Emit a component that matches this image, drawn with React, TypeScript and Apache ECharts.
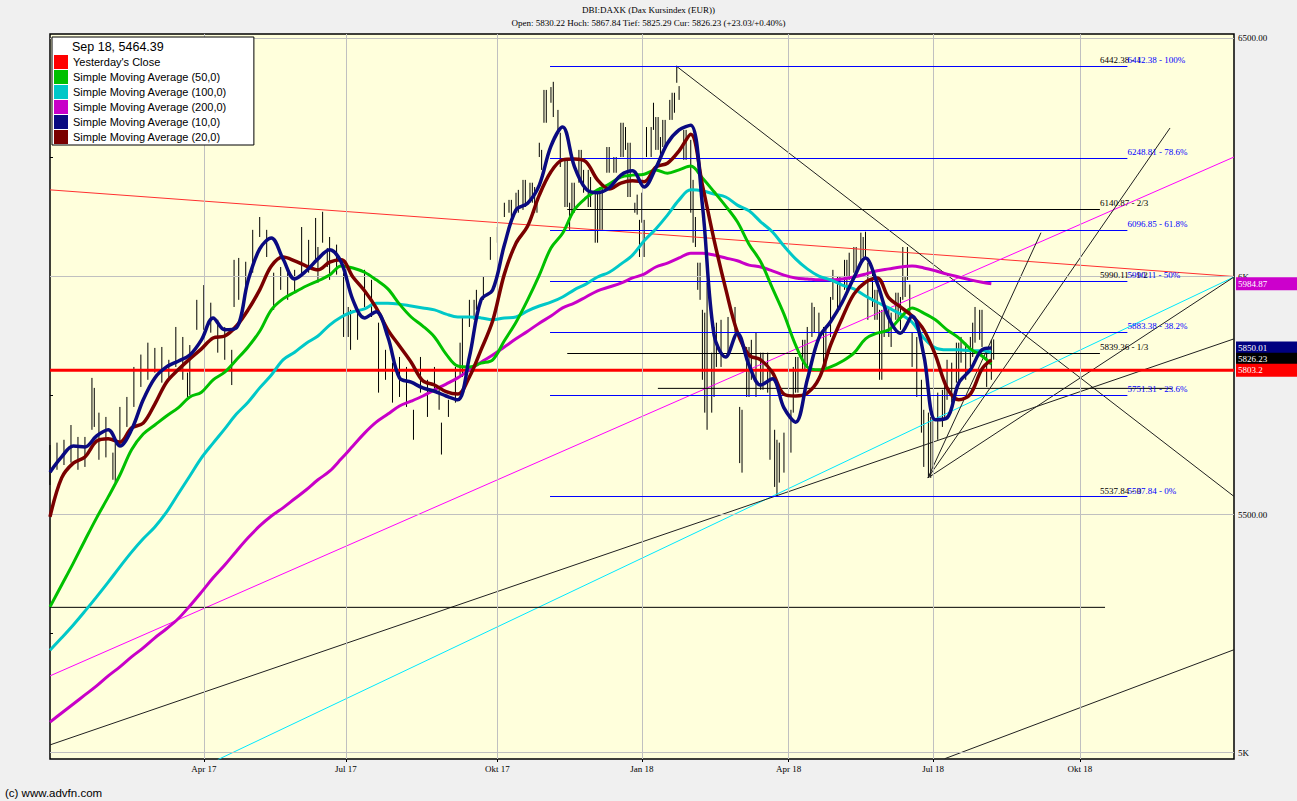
import { useEffect, useRef } from 'react';
import * as echarts from 'echarts';

// ---------- axis data ----------
const quarterDays = [66, 127, 192, 254, 317, 379, 442]; // trading-day index of quarter starts
const quarterLabels = ['Apr 17', 'Jul 17', 'Okt 17', 'Jan 18', 'Apr 18', 'Jul 18', 'Okt 18'];
const yTickValues = [5000, 5250, 5500, 5750, 6000, 6250, 6500];
const yLabelValues = [5000, 5500, 6000, 6500];
const yLabelTexts = ['5K', '5500.00', '6K', '6500.00'];
const gridLevels = [5000, 5500, 6000, 6500];
const DAY_MAX = 508.15;
const Y_MIN = 4986.4;
const Y_MAX = 6509.45;

// ---------- price bars (high / low) ----------
const barDays = [0,3,6,9,12,15,18,21,24,27,30,33,36,39,42,45,48,51,54,57,60,63,66,69,72,75,78,81,84,87,90,93,96,99,102,105,108,111,114,117,120,123,126,129,132,135,138,141,144,147,150,153,156,159,162,165,168,171,174,177,180,183,186,189,192,195,198,201,204,207,210,213,216,219,222,225,228,231,234,237,240,243,246,249,252,255,258,261,264,267,270,273,276,279,282,285,288,291,294,297,300,303,306,309,312,315,318,321,324,327,330,333,336,339,342,345,348,351,354,357,360,363,366,369,372,375,378,381,384,387,390,393,396,399,402,405];
const barHigh = [5646,5651,5657,5688,5663,5663,5787,5714,5705,5630,5726,5747,5810,5836,5861,5850,5852,5825,5894,5873,5856,5951,5982,5945,5909,5894,5846,6039,6031,6098,6125,6098,6008,6020,6008,6014,6104,6077,6123,6136,6083,6067,6008,5930,5930,6014,5993,5903,5846,5819,5831,5810,5720,5831,5783,5810,5693,5741,5810,5915,5951,5972,6000,6083,6104,6155,6161,6182,6203,6197,6281,6392,6409,6302,6245,6197,6266,6224,6176,6188,6272,6251,6323,6281,6172,6119,6314,6335,6329,6386,6400,6308,6203,6029,5987,5894,5909,5915,5936,5720,5852,5882,5840,5804,5657,5672,5720,5831,5867,5945,5924,5894,6014,6000,6035,6062,6092,6029,5972,5930,5936,5966,6062,5983,5873,5720,5705,5756,5783,5819,5861,5861,5903,5930,5852,5867.84];
const barLow = [5562,5594,5604,5609,5594,5600,5678,5615,5620,5573,5642,5684,5726,5768,5783,5798,5777,5783,5810,5783,5751,5888,5888,5882,5840,5825,5772,5951,5972,6008,6083,6041,5930,5972,5951,5966,5999,6008,6035,6071,5993,6004,5873,5846,5867,5936,5915,5756,5783,5735,5747,5726,5657,5756,5705,5762,5626,5705,5735,5789,5894,5930,5951,6035,6071,6125,6125,6134,6146,6155,6251,6323,6335,6230,6146,6134,6197,6146,6071,6098,6218,6218,6251,6167,6130,6041,6251,6266,6272,6329,6371,6245,6071,5951,5678,5747,5810,5840,5882,5588,5747,5747,5762,5615,5537.84,5588,5630,5756,5804,5873,5867,5810,5951,5930,5972,6008,6031,5909,5909,5783,5873,5909,5951,5919,5747,5600,5577,5657,5699,5735,5777,5783,5831,5867,5768,5825.29];
// further bars read between the ones above
const extraBarDays = [19,28,59,79,115,119,128,167,176,182,197,200,203,206,208,209,211,212,215,218,221,223,224,227,229,232,235,236,239,242,245,247,248,251,253,254,256,259,260,262,263,266,268,269,272,275,277,278,280,281,284,286,296,299,301,305,308,311,313,319,320,323,325,328,332,335,338,341,343,346,349,350,353,355,356,358,361,364,365,367,368,370,374,377,379,383,385,389,391,395,397,400,404];
const extraBarHigh = [5766,5651,5798,6035,6062,6060,5936,5762,5861,5951,6161,6176,6203,6197,6188,6161,6266,6392,6398,6350,6245,6155,6197,6266,6224,6209,6176,6188,6272,6251,6323,6314,6281,6155,6119,6176,6314,6365,6335,6293,6329,6371,6386,6442.38,6308,6287,6125,6029,5930,5924,5840,5903,5726,5852,5867,5840,5840,5678,5651,5810,5831,5867,5894,5936,5894,5957,6000,6035,6050,6062,6083,6094,6014,5972,5930,5936,5924,5966,5957,5999,6062,5882,5783,5714,5705,5762,5825,5861,5873,5873,5936,5930,5867];
const extraBarLow = [5684,5567,5747,5936,5987,6020,5873,5720,5789,5909,6134,6134,6140,6155,6134,6134,6224,6323,6365,6302,6146,6098,6134,6197,6176,6146,6071,6098,6218,6218,6251,6266,6167,6134,6041,6113,6251,6308,6266,6245,6272,6329,6344,6407,6245,6134,6062,5972,5783,5714,5714,5810,5608,5747,5783,5762,5756,5558,5567,5714,5756,5804,5810,5882,5810,5873,5930,5972,5993,6008,6041,6041,5936,5909,5783,5873,5852,5909,5888,5957,5993,5810,5672,5577,5600,5684,5741,5777,5819,5810,5861,5852,5783];

// ---------- moving averages ----------
const maDays = [0,5,10,15,20,25,30,35,40,45,50,55,60,65,70,75,80,85,90,95,100,105,110,115,120,125,130,135,140,145,150,155,160,165,170,175,180,185,190,195,200,205,210,215,220,225,230,235,240,245,250,255,260,265,270,275,280,285,290,295,300,305,310,315,320,325,330,335,340,345,350,355,360,365,370,375,380,385,390,395,400,404];
const sma10 = [5589,5621,5644,5642,5665,5678,5644,5678,5741,5787,5810,5822,5835,5867,5913,5888,5892,5991,6058,6081,6037,5995,6012,6037,6056,6030,5951,5913,5926,5873,5787,5778,5766,5759,5749,5741,5831,5951,5972,6066,6140,6154,6192,6274,6314,6232,6184,6176,6186,6213,6222,6188,6228,6280,6308,6318,6150,5877,5831,5881,5814,5772,5785,5724,5694,5783,5871,5905,5946,5997,6039,5986,5913,5881,5917,5835,5699,5703,5776,5804,5846,5850.01];
const sma20 = [5495,5577,5608,5621,5654,5659,5652,5682,5692,5732,5778,5804,5827,5848,5871,5875,5896,5930,5972,6022,6041,6033,6022,6014,6030,6035,5999,5970,5934,5888,5854,5820,5781,5772,5758,5753,5789,5846,5907,6005,6070,6106,6171,6220,6245,6247,6241,6203,6184,6196,6201,6199,6230,6238,6264,6299,6192,6077,5974,5883,5835,5825,5799,5753,5749,5755,5785,5856,5913,5963,5988,5997,5955,5936,5917,5888,5835,5766,5741,5753,5806,5825];
const sma50 = [5306,5352,5398,5446,5493,5537,5583,5636,5669,5688,5707,5724,5747,5757,5783,5799,5825,5852,5885,5930,5953,5967,5980,5991,6003,6022,6018,6009,5993,5974,5942,5915,5896,5873,5837,5812,5810,5818,5825,5865,5904,5951,6003,6060,6091,6140,6165,6182,6194,6209,6213,6215,6224,6217,6224,6232,6207,6178,6148,6115,6068,6031,5976,5921,5856,5810,5804,5810,5822,5839,5869,5881,5888,5913,5934,5923,5909,5888,5871,5848,5833,5816];
const sma100 = [5215,5241,5268,5297,5327,5358,5390,5421,5449,5474,5505,5543,5581,5619,5650,5680,5711,5736,5766,5793,5825,5841,5860,5875,5898,5915,5926,5932,5944,5944,5942,5938,5934,5930,5921,5915,5915,5913,5909,5913,5915,5928,5938,5946,5957,5972,5984,5999,6009,6026,6045,6075,6100,6129,6161,6182,6180,6173,6167,6150,6138,6115,6094,6064,6037,6016,6001,5993,5982,5974,5959,5946,5934,5921,5904,5871,5850,5846,5846,5844,5844,5841];
const sma200 = [5064,5083,5102,5121,5140,5161,5180,5201,5220,5241,5260,5281,5308,5337,5367,5394,5423,5451,5476,5497,5514,5533,5552,5573,5591,5617,5644,5671,5694,5711,5728,5738,5749,5762,5774,5787,5804,5820,5835,5852,5869,5885,5902,5917,5934,5944,5957,5970,5978,5986,5997,6005,6020,6028,6039,6049,6049,6045,6039,6033,6024,6020,6012,6003,5997,5995,5993,5993,5995,5999,6005,6012,6016,6020,6022,6018,6012,6005,5999,5993,5988,5984.87];
const yesterdayClose = 5803.2;

// ---------- drawn trend lines (day index, value) ----------
const redTrend = [[0, 6182], [508.15, 6000]];
const peakTrend = [[268.7, 6442.38], [508.15, 5538]];
const magentaTrend = [[0, 5161], [508.15, 6251]];
const cyanTrend = [[72, 4985], [508.15, 5999]];
const longBlackTrend = [[0, 5016], [508.15, 5869]];
const lowBlackTrend = [[384, 4987], [508.15, 5216]];
const supportLine = [[0, 5305], [452.8, 5305]];
const midLine = [[260.9, 5765], [481.5, 5765]];
const fanOrigin = [376.8, 5577];
const fanEnds = [[425.3, 6092], [480.7, 6312], [508.15, 5999]];

// ---------- Fibonacci retracements ----------
const fibBlueLevels = [5537.84, 5751.31, 5883.38, 5990.11, 6096.85, 6248.81, 6442.38];
const fibBlueTexts = ['5537.84 - 0%', '5751.31 - 23.6%', '5883.38 - 38.2%', '5990.11 - 50%', '6096.85 - 61.8%', '6248.81 - 78.6%', '6442.38 - 100%'];
const fibBlueRange = [214.6, 462.4];
const fibBlackLevels = [5537.84, 5839.36, 5990.11, 6140.87, 6442.38];
const fibBlackTexts = ['5537.84 - 0', '5839.36 - 1/3', '5990.11 - 1/2', '6140.87 - 2/3', '6442.38 - 1'];
const fibBlackRange = [222, 450.6];

// ---------- right-hand value tags ----------
const tagValues = [5984.87, 5850.01, 5826.23, 5803.2];
const tagTexts = ['5984.87', '5850.01', '5826.23', '5803.2'];
const tagColors = ['#cc00cc', '#000080', '#000000', '#ff0000'];

// ---------- texts ----------
const titleText = 'DBI:DAXK (Dax Kursindex (EUR))';
const subText = 'Open: 5830.22 Hoch: 5867.84 Tief: 5825.29 Cur: 5826.23 (+23.03/+0.40%)';
const legendTitle = 'Sep 18, 5464.39';
const footerText = '(c) www.advfn.com';
const legendNames = [
  "Yesterday's Close",
  'Simple Moving Average (50,0)',
  'Simple Moving Average (100,0)',
  'Simple Moving Average (200,0)',
  'Simple Moving Average (10,0)',
  'Simple Moving Average (20,0)',
];

const SERIF = "'Liberation Serif', 'Times New Roman', serif";
const SANS = "'Liberation Sans', Arial, sans-serif";

function segment(points: number[][], color: string, z = 3, width = 1): any {
  return {
    type: 'line',
    data: points,
    showSymbol: false,
    symbol: 'none',
    silent: true,
    z,
    lineStyle: { color, width },
    itemStyle: { color },
  };
}

function maSeries(name: string, values: number[], color: string, width: number, z: number): any {
  return {
    type: 'line',
    name,
    data: maDays.map((d, i) => [d, values[i]]),
    showSymbol: false,
    symbol: 'none',
    smooth: 0.35,
    silent: true,
    z,
    lineStyle: { color, width },
    itemStyle: { color },
  };
}

function fibLines(levels: number[], range: number[], color: string, z: number): any {
  return {
    type: 'line',
    data: [],
    silent: true,
    z,
    markLine: {
      silent: true,
      symbol: ['none', 'none'],
      animation: false,
      label: { show: false },
      lineStyle: { color, width: 1, type: 'solid' },
      emphasis: { disabled: true },
      data: levels.map((v) => [{ coord: [range[0], v] }, { coord: [range[1], v] }]),
    },
  };
}

function fibLabels(levels: number[], texts: string[], x: number, color: string, z: number): any {
  return {
    type: 'scatter',
    data: levels.map((v) => [x, v]),
    symbolSize: 0,
    silent: true,
    clip: false,
    z,
    itemStyle: { opacity: 1 },
    label: {
      show: true,
      position: 'right',
      distance: 0,
      offset: [0, -6],
      formatter: (p: any) => texts[p.dataIndex],
      color,
      opacity: 1,
      fontFamily: SERIF,
      fontSize: 9,
    },
  };
}

function buildOption(): any {
  const series: any[] = [];

  // grid lines
  series.push({
    type: 'line',
    data: [],
    silent: true,
    z: 1,
    markLine: {
      silent: true,
      symbol: ['none', 'none'],
      animation: false,
      label: { show: false },
      lineStyle: { color: '#c0c0c0', width: 1, type: 'solid' },
      emphasis: { disabled: true },
      data: [
        ...quarterDays.map((d) => ({ xAxis: d })),
        ...gridLevels.map((v) => ({ yAxis: v })),
      ],
    },
  });

  // price bars
  const barData = barDays
    .map((d, i) => [d, barHigh[i], barLow[i]])
    .concat(extraBarDays.map((d, i) => [d, extraBarHigh[i], extraBarLow[i]]));
  series.push({
    type: 'custom',
    name: 'DAXK',
    silent: true,
    z: 2,
    data: barData,
    encode: { x: 0, y: [1, 2] },
    renderItem: (params: any, api: any) => {
      const x = api.value(0);
      const p1 = api.coord([x, api.value(1)]);
      const p2 = api.coord([x, api.value(2)]);
      return {
        type: 'line',
        shape: { x1: p1[0], y1: p1[1], x2: p2[0], y2: p2[1] },
        style: { stroke: '#000', lineWidth: 1 },
      };
    },
  });

  // trend lines
  series.push(segment(redTrend, '#ff3030', 3));
  series.push(segment(peakTrend, '#202020', 3));
  series.push(segment(magentaTrend, '#ff00ff', 3));
  series.push(segment(cyanTrend, '#00e8ff', 3));
  series.push(segment(longBlackTrend, '#202020', 3));
  series.push(segment(lowBlackTrend, '#202020', 3));
  series.push(segment(supportLine, '#000000', 3));
  series.push(segment(midLine, '#000000', 3));
  fanEnds.forEach((e) => series.push(segment([fanOrigin, e], '#202020', 3)));

  // fibonacci
  series.push(fibLines(fibBlackLevels, fibBlackRange, '#000000', 3));
  series.push(fibLines(fibBlueLevels, fibBlueRange, '#0000ff', 3));
  series.push(fibLabels(fibBlackLevels, fibBlackTexts, fibBlackRange[1], '#000000', 8));
  series.push(fibLabels(fibBlueLevels, fibBlueTexts, fibBlueRange[1], '#0000ff', 9));

  // yesterday's close
  series.push({
    type: 'line',
    name: legendNames[0],
    data: [[0, yesterdayClose], [DAY_MAX, yesterdayClose]],
    showSymbol: false,
    symbol: 'none',
    silent: true,
    z: 4,
    lineStyle: { color: '#ff0000', width: 3 },
    itemStyle: { color: '#ff0000' },
  });

  // moving averages
  series.push(maSeries(legendNames[3], sma200, '#c800c8', 3, 5));
  series.push(maSeries(legendNames[2], sma100, '#00c8c8', 3, 5));
  series.push(maSeries(legendNames[1], sma50, '#00c000', 3, 5));
  series.push(maSeries(legendNames[5], sma20, '#7a0000', 3.5, 6));
  series.push(maSeries(legendNames[4], sma10, '#0a0a80', 3.5, 7));

  // value tags
  series.push({
    type: 'scatter',
    data: tagValues.map((v, i) => ({
      value: [DAY_MAX, v],
      label: { backgroundColor: tagColors[i] },
    })),
    symbolSize: 0,
    silent: true,
    clip: false,
    z: 20,
    itemStyle: { opacity: 1 },
    label: {
      show: true,
      position: 'right',
      distance: 2,
      formatter: (p: any) => tagTexts[p.dataIndex],
      color: '#ffffff',
      opacity: 1,
      fontFamily: SERIF,
      fontSize: 9,
      lineHeight: 9,
      padding: [2, 36, 2, 2],
    },
    labelLayout: { hideOverlap: false },
  });

  return {
    animation: false,
    backgroundColor: '#f0f0f0',
    textStyle: { fontFamily: SERIF },
    title: {
      text: titleText,
      subtext: subText,
      left: 'center',
      top: 4,
      itemGap: 2,
      padding: 0,
      textStyle: { fontFamily: SERIF, fontSize: 9, fontWeight: 'normal', color: '#000', lineHeight: 11 },
      subtextStyle: { fontFamily: SERIF, fontSize: 9, color: '#000', lineHeight: 11 },
    },
    legend: {
      left: 52,
      top: 37,
      orient: 'vertical',
      data: legendNames,
      icon: 'rect',
      itemWidth: 14,
      itemHeight: 14,
      itemGap: 1,
      padding: [18, 27, 1, 2],
      backgroundColor: '#ffffff',
      borderColor: '#000000',
      borderWidth: 1,
      selectedMode: false,
      z: 10,
      textStyle: { fontFamily: SANS, fontSize: 11, color: '#000' },
    },
    graphic: [
      { type: 'text', left: 72, top: 40, z: 100, style: { text: legendTitle, font: `12.5px ${SANS}`, fill: '#000' } },
      { type: 'text', left: 5, top: 787, z: 100, style: { text: footerText, font: `11.5px ${SANS}`, fill: '#000' } },
    ],
    grid: {
      left: 50,
      right: 63,
      top: 34,
      bottom: 42,
      show: true,
      backgroundColor: '#ffffdc',
      borderColor: '#000',
      borderWidth: 1.5,
      containLabel: false,
    },
    xAxis: {
      type: 'value',
      min: 0,
      max: DAY_MAX,
      axisLine: { show: false },
      splitLine: { show: false },
      axisTick: { show: true, customValues: quarterDays, length: 3, lineStyle: { color: '#000' } },
      axisLabel: {
        customValues: quarterDays,
        formatter: (v: number) => {
          const i = quarterDays.indexOf(v);
          return i >= 0 ? quarterLabels[i] : '';
        },
        fontFamily: SERIF,
        fontSize: 9,
        color: '#000',
        margin: 5,
      },
    },
    yAxis: {
      type: 'value',
      position: 'right',
      min: Y_MIN,
      max: Y_MAX,
      axisLine: { show: false },
      splitLine: { show: false },
      axisTick: { show: true, customValues: yTickValues, length: 3, lineStyle: { color: '#000' } },
      axisLabel: {
        customValues: yLabelValues,
        formatter: (v: number) => {
          const i = yLabelValues.indexOf(v);
          return i >= 0 ? yLabelTexts[i] : '';
        },
        fontFamily: SERIF,
        fontSize: 9,
        color: '#000',
        margin: 4,
      },
    },
    series,
  };
}

export default function App() {
  const ref = useRef<HTMLDivElement>(null);
  useEffect(() => {
    document.body.style.margin = '0';
    const chart = echarts.init(ref.current as HTMLDivElement, null, { renderer: 'svg' });
    chart.setOption(buildOption());
    return () => chart.dispose();
  }, []);
  return (
    <div
      ref={ref}
      style={{ position: 'fixed', left: 0, top: 0, width: 1297, height: 801, background: '#f0f0f0' }}
    />
  );
}
